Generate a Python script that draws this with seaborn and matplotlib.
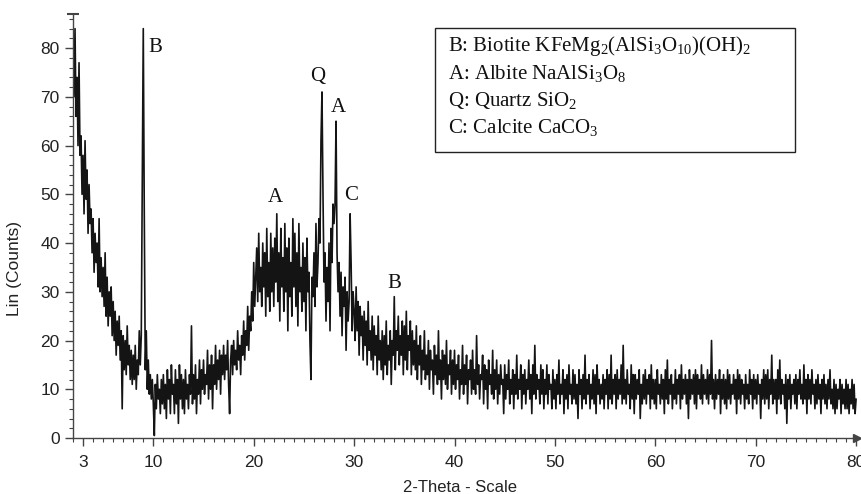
import numpy as np
import pandas as pd
import matplotlib
matplotlib.use("Agg")
import matplotlib.pyplot as plt
from matplotlib.patches import Rectangle
import seaborn as sns

# ---- data (2-theta grid 2.0 .. 80.0, step 0.1) ----
theta_start, theta_step = 2.0, 0.1

counts_02_10 = [80, 70, 84, 66, 74, 60, 77, 58, 62, 50,
                58, 46, 61, 49, 55, 42, 52, 44, 47, 38,
                45, 34, 42, 36, 40, 31, 45, 30, 37, 29,
                35, 27, 38, 25, 33, 23, 30, 25, 31, 21,
                28, 20, 26, 17, 24, 19, 25, 16, 22, 6,
                21, 14, 20, 13, 23, 15, 19, 12, 18, 11,
                17, 12, 19, 10, 16, 13, 22, 15, 21, 52,
                84, 46, 14, 22, 10, 16, 9, 13, 8, 12]
counts_10_20 = [7, 0.5, 11, 6, 13, 8, 10, 5, 12, 7,
                13, 6, 11, 4, 14, 8, 12, 5, 15, 9,
                11, 5, 14, 7, 12, 3, 15, 8, 13, 6,
                12, 5, 14, 8, 11, 6, 13, 9, 23, 7,
                13, 8, 15, 5, 12, 9, 16, 7, 14, 10,
                16, 9, 13, 11, 18, 8, 15, 10, 17, 6,
                15, 11, 19, 10, 16, 12, 18, 9, 17, 13,
                19, 12, 17, 14, 20, 11, 5, 16, 19, 13,
                20, 15, 18, 14, 22, 16, 19, 13, 21, 17,
                24, 16, 22, 19, 27, 18, 25, 22, 30, 24]
counts_20_30 = [36, 27, 33, 39, 28, 42, 30, 35, 27, 40,
                31, 38, 25, 43, 29, 36, 26, 42, 30, 39,
                27, 41, 32, 46, 28, 38, 24, 43, 31, 37,
                26, 44, 30, 39, 22, 41, 29, 36, 25, 45,
                31, 42, 27, 38, 23, 44, 30, 35, 26, 40,
                28, 37, 22, 41, 30, 34, 20, 12, 33, 29,
                38, 27, 44, 31, 36, 45, 40, 61, 71, 50,
                32, 38, 24, 35, 28, 40, 22, 43, 36, 48,
                44, 48, 65, 38, 30, 36, 25, 34, 21, 31,
                27, 33, 18, 30, 24, 28, 46, 36, 22, 30]
counts_30_40 = [26, 20, 31, 22, 28, 17, 27, 21, 25, 16,
                26, 19, 24, 15, 28, 18, 22, 16, 25, 14,
                23, 17, 21, 13, 25, 16, 20, 14, 22, 12,
                21, 15, 24, 13, 19, 16, 22, 11, 20, 17,
                29, 14, 22, 18, 25, 15, 21, 17, 24, 13,
                23, 16, 26, 14, 21, 18, 24, 13, 22, 15,
                20, 14, 23, 12, 19, 15, 21, 11, 18, 14,
                22, 12, 17, 13, 20, 10, 18, 14, 16, 9,
                19, 13, 17, 11, 22, 12, 16, 8, 18, 12,
                17, 11, 20, 10, 15, 13, 18, 9, 16, 11]
counts_40_50 = [18, 10, 15, 12, 17, 8, 14, 11, 19, 9,
                15, 11, 17, 7, 14, 12, 16, 9, 18, 10,
                14, 9, 21, 11, 15, 8, 13, 12, 17, 7,
                15, 10, 14, 6, 16, 11, 13, 9, 18, 8,
                14, 10, 16, 7, 13, 9, 15, 11, 12, 5,
                15, 8, 13, 10, 16, 7, 12, 9, 14, 6,
                13, 9, 17, 8, 12, 10, 15, 6, 13, 9,
                14, 7, 12, 10, 16, 8, 13, 5, 15, 9,
                19, 8, 13, 10, 12, 7, 15, 9, 14, 6,
                12, 9, 15, 7, 13, 10, 11, 6, 14, 8]
counts_50_60 = [12, 6, 13, 9, 16, 7, 11, 9, 14, 5,
                12, 8, 13, 6, 15, 9, 11, 7, 14, 8,
                13, 7, 11, 4, 14, 9, 12, 6, 13, 8,
                17, 7, 12, 9, 13, 6, 11, 8, 14, 7,
                13, 5, 15, 9, 12, 7, 11, 8, 13, 6,
                12, 9, 14, 6, 13, 8, 17, 7, 12, 9,
                13, 6, 14, 8, 12, 9, 15, 7, 19, 8,
                12, 7, 14, 9, 11, 6, 15, 8, 13, 5,
                13, 8, 12, 9, 14, 4, 11, 7, 13, 8,
                14, 7, 12, 9, 13, 6, 15, 8, 12, 7]
counts_60_70 = [12, 6, 14, 9, 11, 7, 13, 8, 12, 5,
                14, 8, 16, 7, 12, 9, 13, 6, 11, 8,
                14, 7, 12, 9, 13, 6, 15, 8, 12, 9,
                13, 7, 12, 4, 14, 8, 12, 9, 13, 7,
                14, 6, 13, 9, 12, 8, 15, 7, 13, 9,
                12, 8, 14, 7, 13, 9, 20, 8, 12, 6,
                13, 8, 12, 9, 14, 5, 12, 8, 13, 7,
                12, 6, 14, 8, 13, 7, 11, 9, 13, 8,
                12, 5, 14, 8, 13, 7, 12, 9, 11, 6,
                13, 8, 11, 7, 14, 9, 12, 6, 13, 8]
counts_70_80 = [12, 7, 13, 9, 11, 4, 12, 8, 14, 7,
                13, 8, 14, 6, 12, 9, 17, 7, 12, 8,
                12, 5, 14, 8, 16, 7, 12, 9, 11, 6,
                13, 3, 12, 8, 13, 6, 11, 9, 12, 7,
                13, 6, 12, 9, 14, 8, 11, 7, 15, 8,
                12, 5, 13, 8, 12, 7, 14, 9, 11, 6,
                12, 7, 13, 8, 11, 5, 12, 8, 13, 7,
                11, 6, 12, 8, 14, 7, 10, 6, 12, 5,
                11, 6, 10, 8, 12, 5, 11, 7, 10, 6,
                12, 6, 11, 5, 10, 7, 12, 6, 11, 5,
                8]

peak_labels = ["B", "A", "Q", "A", "C", "B"]
peak_label_x = [10.2, 22.2, 26.4, 28.4, 29.7, 34.0]
peak_label_y = [80.2, 49.4, 74.1, 67.9, 49.8, 31.6]

legend_lines = [
    "B: Biotite KFeMg$_2$(AlSi$_3$O$_{10}$)(OH)$_2$",
    "A: Albite NaAlSi$_3$O$_8$",
    "Q: Quartz SiO$_2$",
    "C: Calcite CaCO$_3$",
]

x_tick_values = [3, 10, 20, 30, 40, 50, 60, 70, 80]
y_tick_values = [0, 10, 20, 30, 40, 50, 60, 70, 80]

# ---- assemble ----
counts = (counts_02_10 + counts_10_20 + counts_20_30 + counts_30_40 +
          counts_40_50 + counts_50_60 + counts_60_70 + counts_70_80)
two_theta = np.round(theta_start + theta_step * np.arange(len(counts)), 2)
df = pd.DataFrame({"two_theta": two_theta, "counts": counts})

sns.set_style("ticks")
plt.rcParams["font.family"] = ["Liberation Sans Narrow", "Liberation Sans", "DejaVu Sans"]
plt.rcParams["mathtext.fontset"] = "custom"
plt.rcParams["mathtext.rm"] = "Liberation Serif"
plt.rcParams["mathtext.it"] = "Liberation Serif:italic"

fig = plt.figure(figsize=(8.62, 4.94), dpi=100)
ax = fig.add_axes([73 / 862, 1 - 438 / 494, 784 / 862, 424 / 494])

sns.lineplot(data=df, x="two_theta", y="counts", ax=ax, color="#141414",
             linewidth=1.2, estimator=None, sort=False)

ax.set_xlim(2.0, 80.09)
ax.set_ylim(0, 87)

axis_col = "#444444"
for s in ["top", "right"]:
    ax.spines[s].set_visible(False)
for s in ["left", "bottom"]:
    ax.spines[s].set_color(axis_col)
    ax.spines[s].set_linewidth(1.0)

ax.set_xticks(x_tick_values)
ax.set_xticklabels([str(v) for v in x_tick_values])
ax.set_xticks(np.arange(2, 81, 1), minor=True)
ax.set_yticks(y_tick_values)
ax.set_yticks(np.arange(0, 87, 2), minor=True)
ax.tick_params(axis="both", which="major", length=6, width=1.0, color=axis_col,
               labelsize=12.5, labelcolor="#222222", direction="out")
ax.tick_params(axis="both", which="minor", length=3, width=0.8, color=axis_col,
               direction="out")
ax.tick_params(axis="x", pad=6)

ax.set_xlabel("2-Theta - Scale", fontsize=12, color="#222222")
ax.set_ylabel("Lin (Counts)", fontsize=12.5, color="#222222")
ax.xaxis.set_label_coords((460 - 73) / 784, (438 - 480) / 424)
ax.yaxis.set_label_coords((22 - 73) / 784, (438 - 268) / 424)

# axis end decorations
ax.plot([1.0], [0.0], marker=">", color=axis_col, markersize=6,
        transform=ax.transAxes, clip_on=False)
ax.plot([0.0], [1.0], marker="_", color=axis_col, markersize=8, markeredgewidth=1.5,
        transform=ax.transAxes, clip_on=False)

serif = ["Liberation Serif", "DejaVu Serif"]
for lab, px, py in zip(peak_labels, peak_label_x, peak_label_y):
    ax.text(px, py, lab, fontsize=15, family=serif, ha="center", va="center",
            color="#111111")

# legend box
fig.patches.append(Rectangle((435 / 862, 1 - 152 / 494), (795 - 435) / 862,
                             (152 - 28) / 494, transform=fig.transFigure,
                             fill=False, edgecolor="#222222", linewidth=1.0))
for i, line in enumerate(legend_lines):
    fig.text(448 / 862, 1 - (46 + 27.3 * i) / 494, line, fontsize=15,
             family=serif, ha="left", va="center", color="#111111")

fig.savefig("out.png", dpi=100)
